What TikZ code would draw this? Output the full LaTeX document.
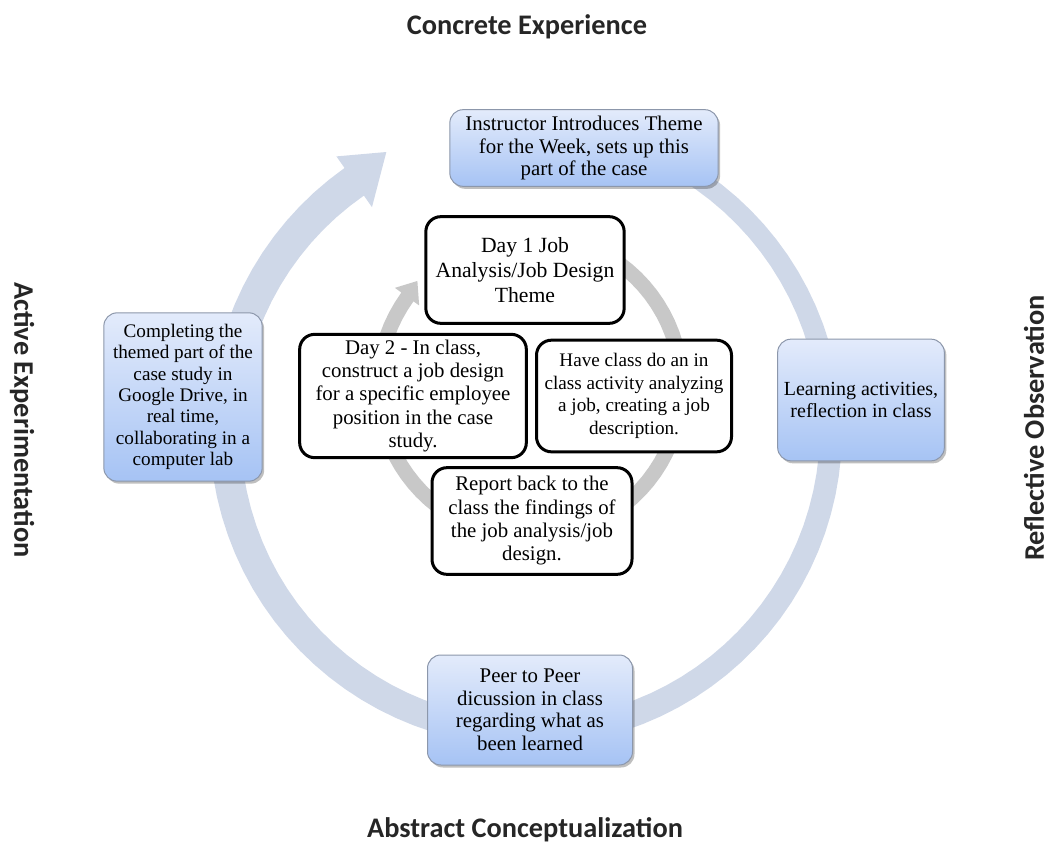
\documentclass[tikz,border=0pt]{standalone}
\usepackage{fontspec}
\setmainfont{Liberation Serif}
\newfontfamily\headfont{Carlito}
\usepackage{tikz}
\usetikzlibrary{shadows}

\definecolor{ringblue}{HTML}{CFD8E8}
\definecolor{ringgrey}{HTML}{C8C8C8}
\definecolor{boxtop}{HTML}{E3EBFB}
\definecolor{boxbottom}{HTML}{A6C3F4}
\definecolor{boxline}{HTML}{8C97AB}

\begin{document}
\begin{tikzpicture}[
        x=0.6pt, y=-0.6pt,
        stage/.style={rectangle, rounded corners=8pt, draw=boxline, line width=0.6pt, top color=boxtop, bottom color=boxbottom, align=center, inner sep=0pt, font=\fontsize{12.5}{13.5}\selectfont, drop shadow={shadow xshift=1.2pt, shadow yshift=-1.5pt, fill=black, opacity=0.25}},
        task/.style={rectangle, rounded corners=9pt, draw=black, line width=1.8pt, fill=white, align=center, inner sep=0pt, font=\fontsize{12.5}{14}\selectfont},
        phase/.style={inner sep=0pt, font=\headfont\bfseries\fontsize{17}{20}\selectfont, text=black!85}
    ]
        \useasboundingbox (0,0) rectangle (1052,849);

        % Outer cycle arrow
        \begin{scope}[shift={(528,430)}]
            \fill[ringblue] plot[domain=-80:235, samples=90, variable=\a] (\a:{312+0.025*(\a+80)})
                -- (235:334) -- (243:312) -- (235:272)
                -- plot[domain=235:-80, samples=90, variable=\a] (\a:{294-0.025*(\a+80)}) -- cycle;
        \end{scope}

        % Inner cycle arrow
        \begin{scope}[shift={(530,386)}]
            \fill[ringgrey] plot[domain=-75:216, samples=70, variable=\a] (\a:159)
                -- (216:167) -- (223:154) -- (216:137)
                -- plot[domain=216:-75, samples=70, variable=\a] (\a:144) -- cycle;
        \end{scope}

        % Outer stages
        \node[stage, minimum width=161pt, minimum height=46pt] (instructor) at (584,148) {Instructor Introduces Theme\\for the Week, sets up this\\part of the case};
        \node[stage, minimum width=100pt, minimum height=73pt, font=\fontsize{12}{13.5}\selectfont] (learning) at (861,400) {Learning activities,\\reflection in class};
        \node[stage, minimum width=123pt, minimum height=66pt] (peer) at (530,710) {Peer to Peer\\dicussion in class\\regarding what as\\been learned};
        \node[stage, minimum width=95pt, minimum height=101pt, font=\fontsize{11.5}{12.8}\selectfont] (completing) at (183,397) {Completing the\\themed part of the\\case study in\\Google Drive, in\\real time,\\collaborating in a\\computer lab};

        % Inner tasks
        \node[task, minimum width=119pt, minimum height=64pt, font=\fontsize{13}{15}\selectfont] (dayone) at (525,270) {Day 1 Job\\Analysis/Job Design\\Theme};
        \node[task, minimum width=136pt, minimum height=74pt] (daytwo) at (413,396) {Day 2 - In class,\\construct a job design\\for a specific employee\\position in the case\\study.};
        \node[task, minimum width=117pt, minimum height=67pt, font=\fontsize{11.5}{13.5}\selectfont] (analyze) at (634,396) {Have class do an in\\class activity analyzing\\a job, creating a job\\description.};
        \node[task, minimum width=120pt, minimum height=64pt] (report) at (532,521) {Report back to the\\class the findings of\\the job analysis/job\\design.};

        % Phase labels
        \node[phase] (concrete) at (527,27) {Concrete Experience};
        \node[phase] (abstract) at (525,830) {Abstract Conceptualization};
        \node[phase, rotate=-90] (active) at (22,420) {Active Experimentation};
        \node[phase, rotate=90] (reflective) at (1034,428) {Reflective Observation};
    \end{tikzpicture}
\end{document}
